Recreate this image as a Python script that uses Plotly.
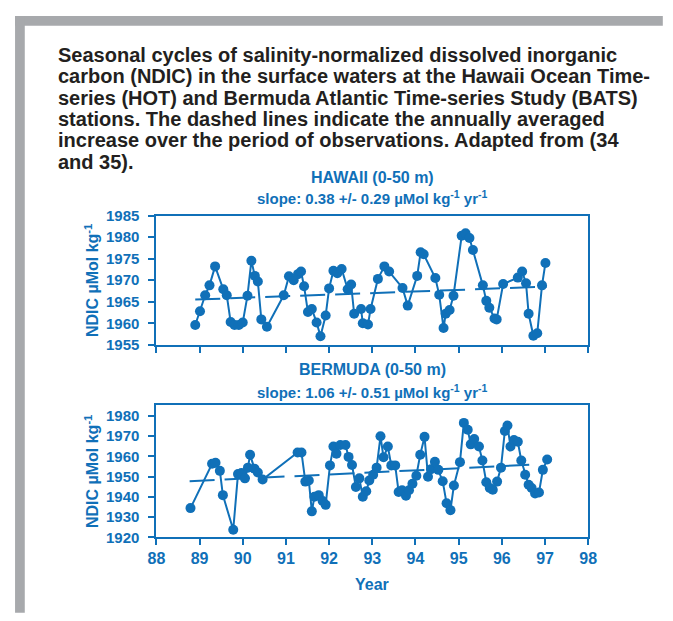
import plotly.graph_objects as go

# HOT (Hawaii) NDIC
hot_year = [88.90, 89.01, 89.13, 89.23, 89.36, 89.55, 89.63, 89.72, 89.81, 89.91, 90.00, 90.11,
            90.20, 90.28, 90.35, 90.43, 90.56, 90.95, 91.07, 91.18, 91.28, 91.35, 91.42, 91.51,
            91.60, 91.71, 91.80, 91.92, 92.00, 92.10, 92.19, 92.29, 92.43, 92.51, 92.58, 92.74,
            92.78, 92.90, 92.96, 93.13, 93.28, 93.39, 93.70, 93.82, 94.04, 94.12, 94.19, 94.46,
            94.55, 94.65, 94.70, 94.79, 94.88, 95.07, 95.16, 95.25, 95.33, 95.56, 95.64, 95.71,
            95.83, 95.88, 96.03, 96.37, 96.47, 96.56, 96.62, 96.73, 96.82, 96.93, 97.01]
hot_ndic = [1959.6, 1962.8, 1966.5, 1968.8, 1973.2, 1967.9, 1966.5, 1960.3, 1959.6, 1959.6, 1960.2, 1966.4,
            1974.5, 1971.0, 1969.7, 1960.9, 1959.2, 1966.5, 1970.9, 1970.0, 1971.4, 1972.0, 1968.6, 1962.6,
            1963.3, 1960.2, 1957.0, 1961.8, 1968.1, 1972.2, 1971.6, 1972.6, 1967.9, 1969.0, 1962.2, 1963.3,
            1960.0, 1959.7, 1963.3, 1970.3, 1973.2, 1972.0, 1968.2, 1964.1, 1971.0, 1976.5, 1976.0, 1970.5,
            1966.6, 1958.9, 1962.2, 1963.1, 1966.4, 1980.3, 1980.9, 1979.8, 1977.0, 1968.8, 1965.2, 1963.6,
            1961.1, 1960.9, 1969.1, 1970.6, 1972.0, 1969.3, 1962.2, 1957.1, 1957.7, 1968.8, 1974.0]
hot_trend_year = [88.90, 97.04]
hot_trend_ndic = [1965.5, 1968.5]

# BATS (Bermuda) NDIC
bats_year = [88.79, 89.29, 89.37, 89.47, 89.54, 89.78, 89.89, 89.97, 90.05, 90.12, 90.17, 90.27,
             90.35, 90.46, 91.27, 91.36, 91.45, 91.53, 91.60, 91.66, 91.76, 91.85, 91.92, 92.02,
             92.10, 92.17, 92.26, 92.38, 92.45, 92.53, 92.62, 92.70, 92.78, 92.86, 92.93, 93.02,
             93.10, 93.19, 93.26, 93.36, 93.44, 93.53, 93.61, 93.69, 93.78, 93.85, 93.93, 94.02,
             94.11, 94.21, 94.29, 94.36, 94.45, 94.53, 94.63, 94.72, 94.81, 94.89, 95.03, 95.12,
             95.21, 95.28, 95.36, 95.47, 95.55, 95.64, 95.72, 95.79, 95.89, 95.98, 96.07, 96.13,
             96.20, 96.28, 96.37, 96.45, 96.54, 96.62, 96.69, 96.77, 96.86, 96.95, 97.05]
bats_ndic = [1934.4, 1956.3, 1956.8, 1952.8, 1940.8, 1923.7, 1951.2, 1951.7, 1949.1, 1954.4, 1960.8, 1953.9,
             1952.0, 1948.5, 1961.9, 1961.9, 1947.5, 1948.0, 1932.8, 1940.0, 1940.8, 1937.9, 1936.0, 1955.5,
             1964.8, 1961.3, 1965.6, 1965.6, 1959.7, 1955.7, 1944.8, 1949.1, 1940.0, 1942.7, 1948.0, 1950.9,
             1954.4, 1969.9, 1959.5, 1964.8, 1955.5, 1955.5, 1942.4, 1943.2, 1940.5, 1943.2, 1946.4, 1950.4,
             1960.8, 1969.6, 1949.9, 1953.6, 1957.3, 1953.3, 1947.7, 1936.8, 1933.4, 1945.6, 1957.1, 1976.5,
             1973.1, 1965.9, 1968.5, 1964.8, 1957.9, 1947.2, 1944.3, 1943.5, 1947.5, 1954.4, 1972.5, 1975.2,
             1964.8, 1968.0, 1967.2, 1957.9, 1950.9, 1945.9, 1944.3, 1941.6, 1942.1, 1953.3, 1958.4]
bats_trend_year = [88.77, 96.85]
bats_trend_ndic = [1947.7, 1956.0]

year_ticks = [88, 89, 90, 91, 92, 93, 94, 95, 96, 97, 98]
hot_ticks = [1955, 1960, 1965, 1970, 1975, 1980, 1985]
bats_ticks = [1920, 1930, 1940, 1950, 1960, 1970, 1980]

title_lines = [
    "Seasonal cycles of salinity-normalized dissolved inorganic",
    "carbon (NDIC) in the surface waters at the Hawaii Ocean Time-",
    "series (HOT) and Bermuda Atlantic Time-series Study (BATS)",
    "stations. The dashed lines indicate the annually averaged",
    "increase over the period of observations. Adapted from (34",
    "and 35).",
]

# the page keeps the browser's 8px body margin, so the figure is sized to fit
# inside the 673x621 window without scrolling; positions below are window pixels
PAGE_W, PAGE_H, PAD = 673, 621, 8
W, H = PAGE_W - 2 * PAD, PAGE_H - 2 * PAD
BLUE = "#1070b8"
GREY = "#a7a9ac"
FONT = "Liberation Sans, Arial, sans-serif"


def px(x):
    return (x - PAD) / W


def py(y):
    return 1 - (y - PAD) / H


fig = go.Figure()

for yr, val, ty, tv, ax in [(hot_year, hot_ndic, hot_trend_year, hot_trend_ndic, ""),
                            (bats_year, bats_ndic, bats_trend_year, bats_trend_ndic, "2")]:
    fig.add_trace(go.Scatter(x=ty, y=tv, mode="lines", xaxis="x" + ax, yaxis="y" + ax,
                             line=dict(color=BLUE, width=2, dash="25px,10px")))
    fig.add_trace(go.Scatter(x=yr, y=val, mode="lines+markers", xaxis="x" + ax, yaxis="y" + ax,
                             line=dict(color=BLUE, width=2),
                             marker=dict(color=BLUE, size=10)))

axis_common = dict(showgrid=False, zeroline=False, showline=True, linecolor=BLUE, linewidth=2,
                   mirror=True, ticks="outside", ticklen=6, tickwidth=1.5, tickcolor=BLUE,
                   tickfont=dict(family=FONT, size=15, color=BLUE, weight="bold"))

fig.update_layout(
    width=W, height=H, margin=dict(l=0, r=0, t=0, b=0),
    paper_bgcolor="white", plot_bgcolor="white", showlegend=False,
    xaxis=dict(axis_common, domain=[px(151.3), px(595.3)], range=[88, 98], tickvals=year_ticks,
               showticklabels=False, anchor="y"),
    yaxis=dict(axis_common, domain=[py(345.3), py(212.3)], range=[1955, 1985], tickvals=hot_ticks,
               anchor="x", ticklabelstandoff=6),
    xaxis2=dict(axis_common, domain=[px(151.3), px(595.3)], range=[88, 98], tickvals=year_ticks,
                anchor="y2", tickfont=dict(family=FONT, size=16, color=BLUE, weight="bold")),
    yaxis2=dict(axis_common, domain=[py(543.3), py(407.3)], range=[1920, 1985.3], tickvals=bats_ticks,
                anchor="x2", ticklabelstandoff=6),
)

# grey frame (top and left edges)
fig.add_shape(type="rect", xref="paper", yref="paper", x0=px(6), x1=px(672), y0=py(17), y1=py(7),
              fillcolor=GREY, line_width=0, layer="below")
fig.add_shape(type="rect", xref="paper", yref="paper", x0=px(6), x1=px(16), y0=py(621), y1=py(7),
              fillcolor=GREY, line_width=0, layer="below")

# caption
for i, line in enumerate(title_lines):
    fig.add_annotation(text=line, xref="paper", yref="paper", x=px(48), y=py(47 + 22 * i),
                       xanchor="left", yanchor="middle", showarrow=False,
                       font=dict(family=FONT, size=20, color="#231f20", weight="bold"))

# panel labels
panel_text = [
    ("HAWAII (0-50 m)", 173.5, 16),
    ("slope: 0.38 +/- 0.29 \u00b5Mol kg<sup>-1</sup> yr<sup>-1</sup>", 193.5, 15),
    ("BERMUDA (0-50 m)", 371, 16),
    ("slope: 1.06 +/- 0.51 \u00b5Mol kg<sup>-1</sup> yr<sup>-1</sup>", 393.5, 15),
]
for txt, y, size in panel_text:
    fig.add_annotation(text=txt, xref="paper", yref="paper", x=px(373.3), y=py(y),
                       xanchor="center", yanchor="middle", showarrow=False,
                       font=dict(family=FONT, size=size, color=BLUE, weight="bold"))

# y axis titles
for y in [278.8, 475.3]:
    fig.add_annotation(text="NDIC \u00b5Mol kg<sup>-1</sup>", xref="paper", yref="paper",
                       x=px(85), y=py(y), textangle=-90, showarrow=False,
                       xanchor="center", yanchor="middle",
                       font=dict(family=FONT, size=16, color=BLUE, weight="bold"))

fig.add_annotation(text="Year", xref="paper", yref="paper", x=px(373.3), y=py(592),
                   xanchor="center", yanchor="middle", showarrow=False,
                   font=dict(family=FONT, size=16, color=BLUE, weight="bold"))

fig.write_html("out.html", config={"displayModeBar": False})
